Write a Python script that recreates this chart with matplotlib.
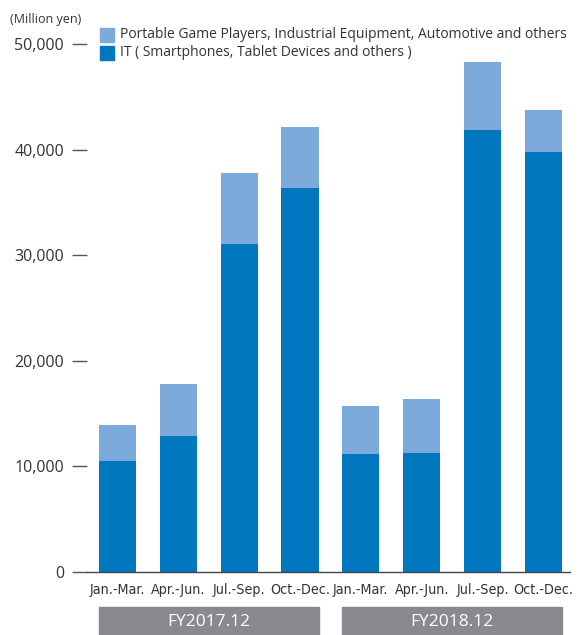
import matplotlib
matplotlib.use("Agg")
import matplotlib.pyplot as plt
from matplotlib.patches import Rectangle

# Quarterly sales by application (million yen)
quarters = ["Jan.-Mar.", "Apr.-Jun.", "Jul.-Sep.", "Oct.-Dec.",
            "Jan.-Mar.", "Apr.-Jun.", "Jul.-Sep.", "Oct.-Dec."]
fiscal_years = ["FY2017.12", "FY2018.12"]
it_sales = [10500, 12900, 31050, 36350, 11150, 11250, 41850, 39800]
other_sales = [3400, 4900, 6700, 5800, 4550, 5150, 6450, 3950]
yticks = [0, 10000, 20000, 30000, 40000, 50000]
series_labels = ["Portable Game Players, Industrial Equipment, Automotive and others",
                 "IT ( Smartphones, Tablet Devices and others )"]

DARK = "#0077bf"
LIGHT = "#7baadb"
GREY_BOX = "#898a8d"
TEXT = "#333333"
FONT = ["Open Sans", "DejaVu Sans"]

W, H = 579, 635
fig = plt.figure(figsize=(W / 100, H / 100), dpi=100)
ax = fig.add_axes([87 / W, (H - 572) / H, (570 - 87) / W, (572 - 44) / H])

x = list(range(len(quarters)))
bw = 0.61
ax.bar(x, it_sales, width=bw, color=DARK, zorder=2)
ax.bar(x, other_sales, width=bw, bottom=it_sales, color=LIGHT, zorder=2)

ax.set_xlim(-0.5, 7.435)
ax.set_ylim(0, 50000)

for s in ["top", "right", "left"]:
    ax.spines[s].set_visible(False)
ax.spines["bottom"].set_color("#444444")
ax.spines["bottom"].set_linewidth(1.0)

ax.set_yticks(yticks)
ax.set_yticklabels([f"{v:,}" for v in yticks], family=FONT, fontsize=11.5, color=TEXT)
ax.tick_params(axis="y", length=10.5, width=1.0, color="#555555", pad=6)

ax.set_xticks(x)
ax.set_xticklabels(quarters, family=["DejaVu Sans"], fontstretch="condensed",
                   fontsize=10.3, color=TEXT)
ax.tick_params(axis="x", length=0, pad=8)

# unit label
fig.text(10 / W, 1 - 19 / H, "(Million yen)", family=FONT, fontsize=9, color=TEXT,
         ha="left", va="center")

# legend
for i, (lab, col) in enumerate(zip(series_labels, [LIGHT, DARK])):
    yc = 35 + i * 18
    fig.patches.append(Rectangle((100 / W, 1 - (yc + 7) / H), 14 / W, 14 / H,
                                 transform=fig.transFigure, color=col, figure=fig))
    fig.text(120 / W, 1 - yc / H, lab, family=FONT, fontsize=10.0, color=TEXT,
             ha="left", va="center")

# fiscal year bands under the quarter labels
for g, fy in enumerate(fiscal_years):
    x0 = ax.transData.transform((g * 4 - bw / 2, 0))[0]
    x1 = ax.transData.transform((g * 4 + 3 + bw / 2, 0))[0]
    fig.patches.append(Rectangle((x0 / W, 0), (x1 - x0) / W, 28 / H,
                                 transform=fig.transFigure, color=GREY_BOX, figure=fig))
    fig.text((x0 + x1) / 2 / W, 13 / H, fy, family=FONT, fontsize=12.5, color="white",
             ha="center", va="center")

fig.savefig("out.png", dpi=100)
